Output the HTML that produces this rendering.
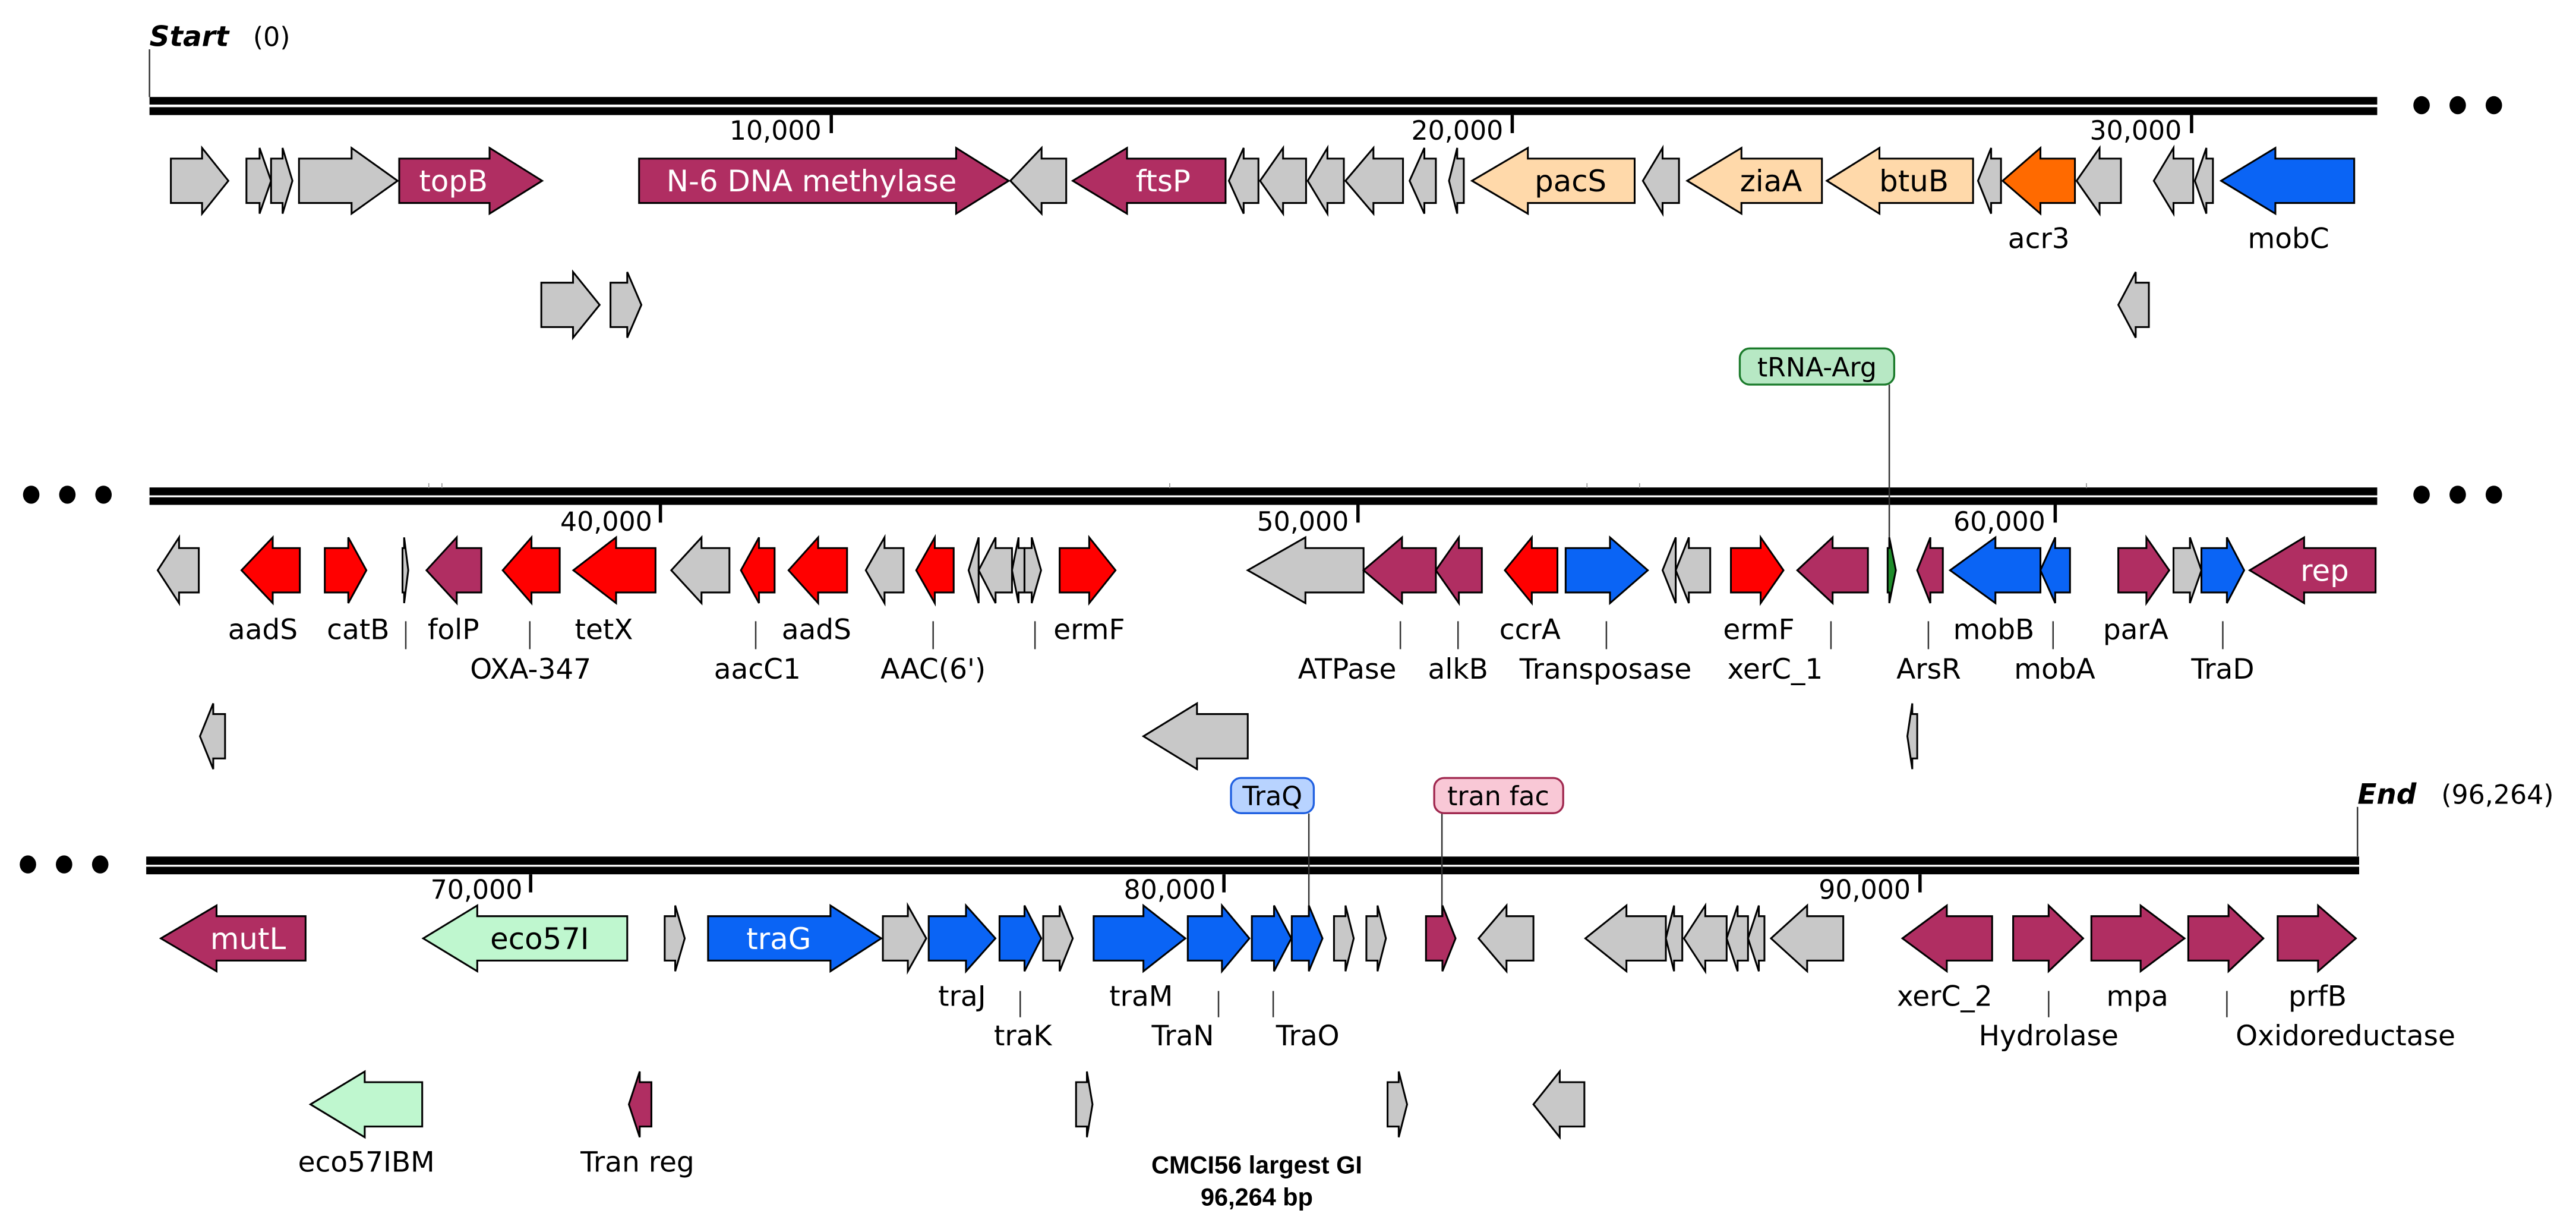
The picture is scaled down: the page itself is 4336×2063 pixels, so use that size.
<!DOCTYPE html>
<html><head><meta charset="utf-8"><style>
html,body{margin:0;padding:0;background:#fff}
svg{display:block}
text{font-family:"DejaVu Sans","Liberation Sans",sans-serif}
.g{fill:#c8c8c8}.m{fill:#b02e62}.r{fill:#ff0000}.b{fill:#0a64f5}.t{fill:#ffd9aa}.o{fill:#ff6a00}.lg{fill:#bff7cf}.dg{fill:#1e8c2a}
polygon{stroke:#000;stroke-width:1.1;stroke-linejoin:miter}
.lb{font-size:17px;fill:#000;text-anchor:middle}
.in{font-size:18px;fill:#fff;text-anchor:middle}
.inb{font-size:18px;fill:#000;text-anchor:middle}
.tk{font-size:16px;fill:#000;text-anchor:end}
.ld{stroke:#333;stroke-width:0.9}
</style></head><body>
<svg width="4336" height="2063" viewBox="0 0 1568 746" xmlns="http://www.w3.org/2000/svg">
<rect width="1568" height="746" fill="#fff"/>

<line x1="91" y1="30" x2="91" y2="59" stroke="#333" stroke-width="0.9"/>
<text x="91" y="28" font-size="17" font-weight="bold" font-style="italic">Start</text>
<text x="154" y="28" font-size="16">(0)</text>
<line x1="1435" y1="491" x2="1435" y2="521" stroke="#333" stroke-width="0.9"/>
<text x="1435" y="489" font-size="17" font-weight="bold" font-style="italic">End</text>
<text x="1486" y="489" font-size="16">(96,264)</text>

<rect x="91" y="59" width="1356" height="4.6" fill="#000"/>
<rect x="91" y="65.2" width="1356" height="4.8" fill="#000"/>
<rect x="91" y="296.6" width="1356" height="4.8" fill="#000"/>
<rect x="91" y="302.6" width="1356" height="4.6" fill="#000"/>
<rect x="89" y="521.2" width="1347" height="5" fill="#000"/>
<rect x="89" y="527.4" width="1347" height="4.6" fill="#000"/>

<g fill="#000">
<ellipse cx="1474" cy="64" rx="5" ry="5.5"/><ellipse cx="1496" cy="64" rx="5" ry="5.5"/><ellipse cx="1518" cy="64" rx="5" ry="5.5"/>
<ellipse cx="19" cy="301" rx="5" ry="5.5"/><ellipse cx="41" cy="301" rx="5" ry="5.5"/><ellipse cx="63" cy="301" rx="5" ry="5.5"/>
<ellipse cx="1474" cy="301" rx="5" ry="5.5"/><ellipse cx="1496" cy="301" rx="5" ry="5.5"/><ellipse cx="1518" cy="301" rx="5" ry="5.5"/>
<ellipse cx="17" cy="526" rx="5" ry="5.5"/><ellipse cx="39" cy="526" rx="5" ry="5.5"/><ellipse cx="61" cy="526" rx="5" ry="5.5"/>
</g>
<g stroke="#999" stroke-width="0.6">
<line x1="261" y1="294" x2="261" y2="297"/><line x1="269" y1="294" x2="269" y2="297"/><line x1="712" y1="294" x2="712" y2="297"/>
<line x1="966" y1="294" x2="966" y2="297"/><line x1="998" y1="294" x2="998" y2="297"/><line x1="1270" y1="294" x2="1270" y2="297"/>
</g>

<g stroke="#000" stroke-width="2">
<line x1="506" y1="70" x2="506" y2="81"/><line x1="920.5" y1="70" x2="920.5" y2="81"/><line x1="1334" y1="70" x2="1334" y2="81"/>
<line x1="402" y1="307" x2="402" y2="318"/><line x1="826.6" y1="307" x2="826.6" y2="318"/><line x1="1251" y1="307" x2="1251" y2="318"/>
<line x1="323" y1="532" x2="323" y2="543"/><line x1="745" y1="532" x2="745" y2="543"/><line x1="1168.7" y1="532" x2="1168.7" y2="543"/>
</g>
<text class="tk" x="500" y="85">10,000</text>
<text class="tk" x="915" y="85">20,000</text>
<text class="tk" x="1328" y="85">30,000</text>
<text class="tk" x="397" y="323">40,000</text>
<text class="tk" x="821" y="323">50,000</text>
<text class="tk" x="1245" y="323">60,000</text>
<text class="tk" x="318" y="547">70,000</text>
<text class="tk" x="740" y="547">80,000</text>
<text class="tk" x="1163" y="547">90,000</text>

<line class="ld" x1="1150" y1="234" x2="1150" y2="347"/>
<line class="ld" x1="796.7" y1="495" x2="796.7" y2="571"/>
<line class="ld" x1="877.7" y1="495" x2="877.7" y2="571"/>

<g transform="translate(0,110)">
<polygon class="g" points="104,-13.5 123,-13.5 123,-20 139,0 123,20 123,13.5 104,13.5"/>
<polygon class="g" points="150,-13.5 158,-13.5 158,-20 165,0 158,20 158,13.5 150,13.5"/>
<polygon class="g" points="165,-13.5 172,-13.5 172,-20 178,0 172,20 172,13.5 165,13.5"/>
<polygon class="g" points="182,-13.5 214,-13.5 214,-20 242,0 214,20 214,13.5 182,13.5"/>
<polygon class="m" points="243,-13.5 298,-13.5 298,-20 330,0 298,20 298,13.5 243,13.5"/>
<polygon class="m" points="389,-13.5 582,-13.5 582,-20 614,0 582,20 582,13.5 389,13.5"/>
<polygon class="g" points="615,0 634,-20 634,-13.5 649,-13.5 649,13.5 634,13.5 634,20"/>
<polygon class="m" points="653,0 686,-20 686,-13.5 746,-13.5 746,13.5 686,13.5 686,20"/>
<polygon class="g" points="748,0 757,-20 757,-13.5 766,-13.5 766,13.5 757,13.5 757,20"/>
<polygon class="g" points="767,0 781,-20 781,-13.5 795,-13.5 795,13.5 781,13.5 781,20"/>
<polygon class="g" points="796,0 808,-20 808,-13.5 818,-13.5 818,13.5 808,13.5 808,20"/>
<polygon class="g" points="819,0 836,-20 836,-13.5 854,-13.5 854,13.5 836,13.5 836,20"/>
<polygon class="g" points="858,0 867,-20 867,-13.5 874,-13.5 874,13.5 867,13.5 867,20"/>
<polygon class="g" points="882,0 887,-20 887,-13.5 891,-13.5 891,13.5 887,13.5 887,20"/>
<polygon class="t" points="896,0 930,-20 930,-13.5 995,-13.5 995,13.5 930,13.5 930,20"/>
<polygon class="g" points="1000,0 1012,-20 1012,-13.5 1022,-13.5 1022,13.5 1012,13.5 1012,20"/>
<polygon class="t" points="1027,0 1060,-20 1060,-13.5 1109,-13.5 1109,13.5 1060,13.5 1060,20"/>
<polygon class="t" points="1112,0 1144,-20 1144,-13.5 1201,-13.5 1201,13.5 1144,13.5 1144,20"/>
<polygon class="g" points="1204,0 1212,-20 1212,-13.5 1218,-13.5 1218,13.5 1212,13.5 1212,20"/>
<polygon class="o" points="1219,0 1242,-20 1242,-13.5 1263,-13.5 1263,13.5 1242,13.5 1242,20"/>
<polygon class="g" points="1264,0 1278,-20 1278,-13.5 1291,-13.5 1291,13.5 1278,13.5 1278,20"/>
<polygon class="g" points="1311,0 1323,-20 1323,-13.5 1335,-13.5 1335,13.5 1323,13.5 1323,20"/>
<polygon class="g" points="1336,0 1343,-20 1343,-13.5 1347,-13.5 1347,13.5 1343,13.5 1343,20"/>
<polygon class="b" points="1352,0 1385,-20 1385,-13.5 1433,-13.5 1433,13.5 1385,13.5 1385,20"/>
<text class="in" x="276" y="6.5">topB</text>
<text class="in" x="494" y="6.5">N-6 DNA methylase</text>
<text class="in" x="708" y="6.5">ftsP</text>
<text class="inb" x="956" y="6.5">pacS</text>
<text class="inb" x="1078" y="6.5">ziaA</text>
<text class="inb" x="1165" y="6.5">btuB</text>
<text class="lb" x="1241" y="41">acr3</text>
<text class="lb" x="1393" y="41">mobC</text>
</g>
<g transform="translate(0,185.5)">
<polygon class="g" points="329.5,-13.5 348.8,-13.5 348.8,-20 365,0 348.8,20 348.8,13.5 329.5,13.5"/>
<polygon class="g" points="371.6,-13.5 381.8,-13.5 381.8,-20 390.4,0 381.8,20 381.8,13.5 371.6,13.5"/>
<polygon class="g" points="1289.4,0 1300,-20 1300,-13.5 1308,-13.5 1308,13.5 1300,13.5 1300,20"/>
</g>

<rect x="1059" y="212" width="94" height="22" rx="6" fill="#b7e8c4" stroke="#1a7a2a" stroke-width="1.2"/>
<text x="1106" y="229" font-size="16" text-anchor="middle">tRNA-Arg</text>

<g transform="translate(0,347)">
<polygon class="g" points="96,0 109,-20 109,-13.5 121,-13.5 121,13.5 109,13.5 109,20"/>
<polygon class="r" points="147,0 166,-20 166,-13.5 182.5,-13.5 182.5,13.5 166,13.5 166,20"/>
<polygon class="r" points="197.7,-13.5 212,-13.5 212,-20 223,0 212,20 212,13.5 197.7,13.5"/>
<polygon class="g" points="245,-13.5 246,-13.5 246,-20 248.5,0 246,20 246,13.5 245,13.5"/>
<polygon class="m" points="259.6,0 278,-20 278,-13.5 293,-13.5 293,13.5 278,13.5 278,20"/>
<polygon class="r" points="306,0 323.5,-20 323.5,-13.5 340.7,-13.5 340.7,13.5 323.5,13.5 323.5,20"/>
<polygon class="r" points="349,0 375,-20 375,-13.5 399,-13.5 399,13.5 375,13.5 375,20"/>
<polygon class="g" points="408.6,0 427,-20 427,-13.5 444,-13.5 444,13.5 427,13.5 427,20"/>
<polygon class="r" points="451,0 462,-20 462,-13.5 471.5,-13.5 471.5,13.5 462,13.5 462,20"/>
<polygon class="r" points="480,0 498,-20 498,-13.5 515.6,-13.5 515.6,13.5 498,13.5 498,20"/>
<polygon class="g" points="527,0 538.4,-20 538.4,-13.5 550,-13.5 550,13.5 538.4,13.5 538.4,20"/>
<polygon class="r" points="557.7,0 569,-20 569,-13.5 580.5,-13.5 580.5,13.5 569,13.5 569,20"/>
<polygon class="g" points="589.6,0 595.7,-20 595.7,20"/>
<polygon class="g" points="595.7,0 606,-20 606,-13.5 616,-13.5 616,13.5 606,13.5 606,20"/>
<polygon class="g" points="616,0 620,-20 620,-13.5 623.6,-13.5 623.6,13.5 620,13.5 620,20"/>
<polygon class="g" points="623.6,-13.5 628,-13.5 628,-20 633.7,0 628,20 628,13.5 623.6,13.5"/>
<polygon class="r" points="645,-13.5 663,-13.5 663,-20 679,0 663,20 663,13.5 645,13.5"/>
<polygon class="g" points="759.5,0 794.6,-20 794.6,-13.5 830,-13.5 830,13.5 794.6,13.5 794.6,20"/>
<polygon class="m" points="830,0 853.4,-20 853.4,-13.5 874,-13.5 874,13.5 853.4,13.5 853.4,20"/>
<polygon class="m" points="874,0 888,-20 888,-13.5 902,-13.5 902,13.5 888,13.5 888,20"/>
<polygon class="r" points="916,0 932.4,-20 932.4,-13.5 948,-13.5 948,13.5 932.4,13.5 932.4,20"/>
<polygon class="b" points="953,-13.5 980,-13.5 980,-20 1003,0 980,20 980,13.5 953,13.5"/>
<polygon class="g" points="1012,0 1020,-20 1020,20"/>
<polygon class="g" points="1020,0 1028,-20 1028,-13.5 1041,-13.5 1041,13.5 1028,13.5 1028,20"/>
<polygon class="r" points="1053.6,-13.5 1071.7,-13.5 1071.7,-20 1085.6,0 1071.7,20 1071.7,13.5 1053.6,13.5"/>
<polygon class="m" points="1094,0 1115.5,-20 1115.5,-13.5 1137,-13.5 1137,13.5 1115.5,13.5 1115.5,20"/>
<polygon class="dg" points="1149,-13.5 1150,-13.5 1150,-20 1154,0 1150,20 1150,13.5 1149,13.5"/>
<polygon class="m" points="1167,0 1175,-20 1175,-13.5 1182.6,-13.5 1182.6,13.5 1175,13.5 1175,20"/>
<polygon class="b" points="1187,0 1214.6,-20 1214.6,-13.5 1242,-13.5 1242,13.5 1214.6,13.5 1214.6,20"/>
<polygon class="b" points="1242,0 1251,-20 1251,-13.5 1260,-13.5 1260,13.5 1251,13.5 1251,20"/>
<polygon class="m" points="1289.4,-13.5 1306.5,-13.5 1306.5,-20 1320.4,0 1306.5,20 1306.5,13.5 1289.4,13.5"/>
<polygon class="g" points="1323,-13.5 1333,-13.5 1333,-20 1340,0 1333,20 1333,13.5 1323,13.5"/>
<polygon class="b" points="1340,-13.5 1355.5,-13.5 1355.5,-20 1366,0 1355.5,20 1355.5,13.5 1340,13.5"/>
<polygon class="m" points="1369.4,0 1402.5,-20 1402.5,-13.5 1446,-13.5 1446,13.5 1402.5,13.5 1402.5,20"/>
<text class="in" x="1415" y="6.5">rep</text>
</g>
<g transform="translate(0,448)">
<polygon class="g" points="121.7,0 129.8,-20 129.8,-13.5 137,-13.5 137,13.5 129.8,13.5 129.8,20"/>
<polygon class="g" points="696,0 728.6,-20 728.6,-13.5 759.5,-13.5 759.5,13.5 728.6,13.5 728.6,20"/>
<polygon class="g" points="1161,0 1164,-20 1164,-13.5 1167,-13.5 1167,13.5 1164,13.5 1164,20"/>
</g>
<g class="ld">
<line x1="247" y1="378" x2="247" y2="395"/><line x1="322.5" y1="378" x2="322.5" y2="395"/>
<line x1="460" y1="378" x2="460" y2="395"/><line x1="568" y1="378" x2="568" y2="395"/>
<line x1="630" y1="378" x2="630" y2="395"/>
<line x1="852.4" y1="378" x2="852.4" y2="395"/><line x1="887.5" y1="378" x2="887.5" y2="395"/>
<line x1="977.8" y1="378" x2="977.8" y2="395"/><line x1="1114.5" y1="378" x2="1114.5" y2="395"/>
<line x1="1173.8" y1="378" x2="1173.8" y2="395"/><line x1="1249.7" y1="378" x2="1249.7" y2="395"/>
<line x1="1353" y1="378" x2="1353" y2="395"/>
</g>
<text class="lb" x="160" y="389">aadS</text>
<text class="lb" x="218" y="389">catB</text>
<text class="lb" x="276" y="389">folP</text>
<text class="lb" x="367.6" y="389">tetX</text>
<text class="lb" x="497" y="389">aadS</text>
<text class="lb" x="663" y="389">ermF</text>
<text class="lb" x="323" y="413">OXA-347</text>
<text class="lb" x="461" y="413">aacC1</text>
<text class="lb" x="568" y="413">AAC(6')</text>
<text class="lb" x="931.3" y="389">ccrA</text>
<text class="lb" x="1070.6" y="389">ermF</text>
<text class="lb" x="1213.6" y="389">mobB</text>
<text class="lb" x="1300" y="389">parA</text>
<text class="lb" x="820" y="413">ATPase</text>
<text class="lb" x="887.5" y="413">alkB</text>
<text class="lb" x="977.3" y="413">Transposase</text>
<text class="lb" x="1080.5" y="413">xerC_1</text>
<text class="lb" x="1174" y="413">ArsR</text>
<text class="lb" x="1250.7" y="413">mobA</text>
<text class="lb" x="1353" y="413">TraD</text>

<rect x="749.3" y="473.4" width="50.4" height="21.4" rx="6" fill="#b8d3ff" stroke="#1f5fe0" stroke-width="1.2"/>
<text x="774.5" y="490" font-size="16" text-anchor="middle">TraQ</text>
<rect x="873" y="473.4" width="78.5" height="21.4" rx="6" fill="#f9c8d6" stroke="#a0284f" stroke-width="1.2"/>
<text x="912" y="490" font-size="16" text-anchor="middle">tran fac</text>

<g transform="translate(0,571)">
<polygon class="m" points="97.9,0 131.8,-20 131.8,-13.5 186,-13.5 186,13.5 131.8,13.5 131.8,20"/>
<polygon class="lg" points="257.6,0 290.5,-20 290.5,-13.5 381.8,-13.5 381.8,13.5 290.5,13.5 290.5,20"/>
<polygon class="g" points="404.6,-13.5 411,-13.5 411,-20 416.8,0 411,20 411,13.5 404.6,13.5"/>
<polygon class="b" points="431,-13.5 505.5,-13.5 505.5,-20 536.4,0 505.5,20 505.5,13.5 431,13.5"/>
<polygon class="g" points="537.4,-13.5 552.6,-13.5 552.6,-20 563.8,0 552.6,20 552.6,13.5 537.4,13.5"/>
<polygon class="b" points="565.3,-13.5 588,-13.5 588,-20 605.9,0 588,20 588,13.5 565.3,13.5"/>
<polygon class="b" points="608.4,-13.5 623.6,-13.5 623.6,-20 633.8,0 623.6,20 623.6,13.5 608.4,13.5"/>
<polygon class="g" points="635,-13.5 645,-13.5 645,-20 653,0 645,20 645,13.5 635,13.5"/>
<polygon class="b" points="665.7,-13.5 696,-13.5 696,-20 721.5,0 696,20 696,13.5 665.7,13.5"/>
<polygon class="b" points="723,-13.5 743.8,-13.5 743.8,-20 760.5,0 743.8,20 743.8,13.5 723,13.5"/>
<polygon class="b" points="762,-13.5 775.5,-13.5 775.5,-20 786,0 775.5,20 775.5,13.5 762,13.5"/>
<polygon class="b" points="786.3,-13.5 796.7,-13.5 796.7,-20 805,0 796.7,20 796.7,13.5 786.3,13.5"/>
<polygon class="g" points="812,-13.5 819,-13.5 819,-20 824,0 819,20 819,13.5 812,13.5"/>
<polygon class="g" points="831.7,-13.5 838.5,-13.5 838.5,-20 843.6,0 838.5,20 838.5,13.5 831.7,13.5"/>
<polygon class="m" points="868,-13.5 878,-13.5 878,-20 886,0 878,20 878,13.5 868,13.5"/>
<polygon class="g" points="900,0 917,-20 917,-13.5 933.4,-13.5 933.4,13.5 917,13.5 917,20"/>
<polygon class="g" points="965,0 990,-20 990,-13.5 1014,-13.5 1014,13.5 990,13.5 990,20"/>
<polygon class="g" points="1014,0 1019,-20 1019,-13.5 1024,-13.5 1024,13.5 1019,13.5 1019,20"/>
<polygon class="g" points="1025,0 1038,-20 1038,-13.5 1051,-13.5 1051,13.5 1038,13.5 1038,20"/>
<polygon class="g" points="1051,0 1057.7,-20 1057.7,-13.5 1064,-13.5 1064,13.5 1057.7,13.5 1057.7,20"/>
<polygon class="g" points="1064,0 1070.6,-20 1070.6,-13.5 1074,-13.5 1074,13.5 1070.6,13.5 1070.6,20"/>
<polygon class="g" points="1078,0 1100,-20 1100,-13.5 1122,-13.5 1122,13.5 1100,13.5 1100,20"/>
<polygon class="m" points="1158,0 1185,-20 1185,-13.5 1212.6,-13.5 1212.6,13.5 1185,13.5 1185,20"/>
<polygon class="m" points="1225.4,-13.5 1247,-13.5 1247,-20 1268,0 1247,20 1247,13.5 1225.4,13.5"/>
<polygon class="m" points="1273,-13.5 1303,-13.5 1303,-20 1329.7,0 1303,20 1303,13.5 1273,13.5"/>
<polygon class="m" points="1332,-13.5 1356.5,-13.5 1356.5,-20 1377.7,0 1356.5,20 1356.5,13.5 1332,13.5"/>
<polygon class="m" points="1386.4,-13.5 1411,-13.5 1411,-20 1434,0 1411,20 1411,13.5 1386.4,13.5"/>
<text class="in" x="151" y="6.5">mutL</text>
<text class="inb" x="328.5" y="6.5">eco57I</text>
<text class="in" x="474" y="6.5">traG</text>
</g>
<g transform="translate(0,672)">
<polygon class="lg" points="189,0 222,-20 222,-13.5 257,-13.5 257,13.5 222,13.5 222,20"/>
<polygon class="m" points="382.8,0 389.4,-20 389.4,-13.5 396.5,-13.5 396.5,13.5 389.4,13.5 389.4,20"/>
<polygon class="g" points="655,-13.5 661.6,-13.5 661.6,-20 665,0 661.6,20 661.6,13.5 655,13.5"/>
<polygon class="g" points="844.6,-13.5 851.4,-13.5 851.4,-20 856.5,0 851.4,20 851.4,13.5 844.6,13.5"/>
<polygon class="g" points="933.4,0 949.4,-20 949.4,-13.5 964.4,-13.5 964.4,13.5 949.4,13.5 949.4,20"/>
</g>
<g class="ld">
<line x1="621" y1="603" x2="621" y2="619"/><line x1="741.7" y1="603" x2="741.7" y2="619"/>
<line x1="775" y1="603" x2="775" y2="619"/><line x1="1247" y1="603" x2="1247" y2="619"/>
<line x1="1355.5" y1="603" x2="1355.5" y2="619"/>
</g>
<text class="lb" x="585.6" y="612">traJ</text>
<text class="lb" x="694.6" y="612">traM</text>
<text class="lb" x="622.6" y="636">traK</text>
<text class="lb" x="720" y="636">TraN</text>
<text class="lb" x="796" y="636">TraO</text>
<text class="lb" x="1183.7" y="612">xerC_2</text>
<text class="lb" x="1301" y="612">mpa</text>
<text class="lb" x="1410.7" y="612">prfB</text>
<text class="lb" x="1247" y="636">Hydrolase</text>
<text class="lb" x="1427.7" y="636">Oxidoreductase</text>
<text class="lb" x="223" y="713">eco57IBM</text>
<text class="lb" x="388" y="713">Tran reg</text>
<text x="765" y="714" font-size="15" font-weight="bold" text-anchor="middle" style="font-family:'Liberation Sans',sans-serif">CMCI56 largest GI</text>
<text x="765" y="733.5" font-size="15" font-weight="bold" text-anchor="middle" style="font-family:'Liberation Sans',sans-serif">96,264 bp</text>
</svg>
</body></html>
